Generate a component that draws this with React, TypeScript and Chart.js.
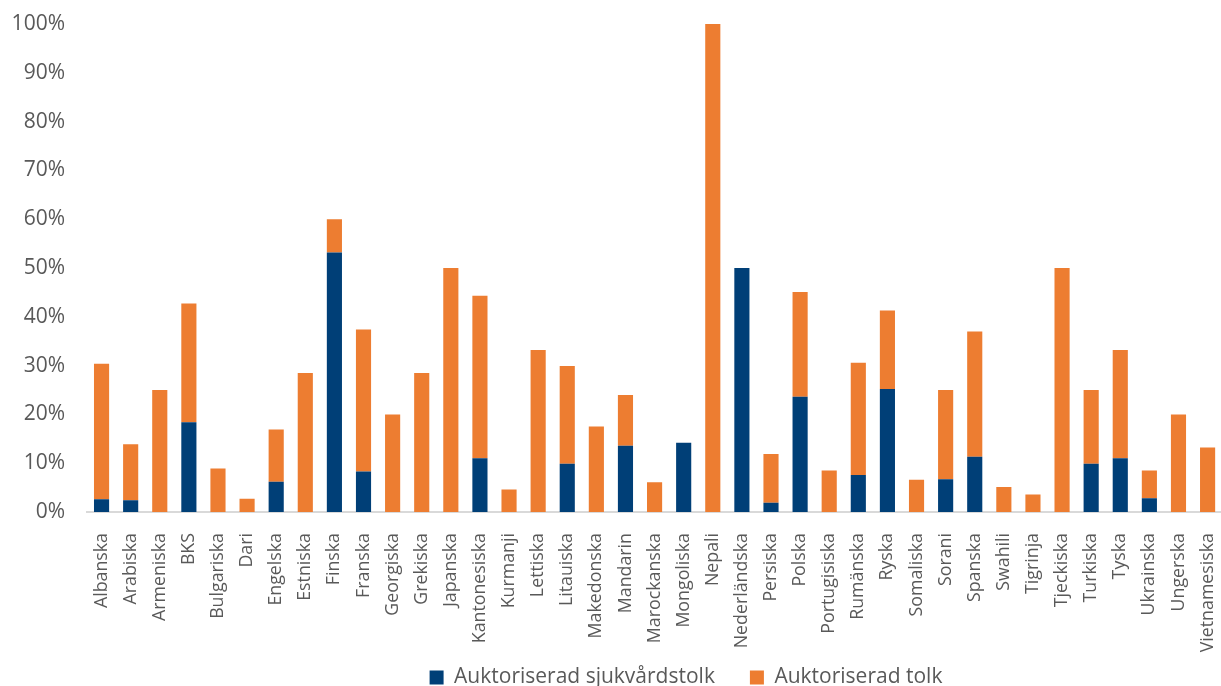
import React, { useEffect, useRef } from "react";
import { Chart, registerables } from "chart.js";

Chart.register(...registerables);

const categories = [
  "Albanska", "Arabiska", "Armeniska", "BKS", "Bulgariska", "Dari", "Engelska", "Estniska",
  "Finska", "Franska", "Georgiska", "Grekiska", "Japanska", "Kantonesiska", "Kurmanji",
  "Lettiska", "Litauiska", "Makedonska", "Mandarin", "Marockanska", "Mongoliska", "Nepali",
  "Nederländska", "Persiska", "Polska", "Portugisiska", "Rumänska", "Ryska", "Somaliska",
  "Sorani", "Spanska", "Swahili", "Tigrinja", "Tjeckiska", "Turkiska", "Tyska", "Ukrainska",
  "Ungerska", "Vietnamesiska",
];

const sjukvardstolk = [
  2.6, 2.4, 0, 18.4, 0, 0, 6.2, 0, 53.2, 8.3, 0, 0, 0, 11.0, 0, 0, 9.9, 0, 13.6, 0, 14.2, 0,
  50, 1.9, 23.6, 0, 7.6, 25.2, 0, 6.7, 11.3, 0, 0, 0, 9.9, 11.0, 2.8, 0, 0,
];

const tolk = [
  27.8, 11.5, 25, 24.3, 8.9, 2.7, 10.7, 28.5, 6.8, 29.1, 20, 28.5, 50, 33.3, 4.6, 33.2, 20.0,
  17.5, 10.4, 6.1, 0, 100, 0, 10.0, 21.5, 8.5, 23.0, 16.1, 6.6, 18.3, 25.7, 5.1, 3.6, 50, 15.1,
  22.2, 5.7, 20, 13.2,
];

const seriesNames = ["Auktoriserad sjukvårdstolk", "Auktoriserad tolk"];

const FONT = "'Open Sans', sans-serif";
const TEXT = "#595959";

// After layout: nudge the legend to the right and let the rotated
// category labels use the empty band above the legend items.
const layoutTweaks = {
  id: "layoutTweaks",
  afterLayout(chart: any) {
    const l = chart.legend;
    if (l) {
      l.left += 61;
      l.right += 61;
    }
    const x = chart.scales.x;
    if (x) {
      x.bottom += 40;
      x.height += 40;
    }
  },
};

export default function App() {
  const ref = useRef<HTMLCanvasElement | null>(null);

  useEffect(() => {
    if (!ref.current) return;
    const chart = new Chart(ref.current, {
      type: "bar",
      data: {
        labels: categories,
        datasets: [
          {
            label: seriesNames[0],
            data: sjukvardstolk,
            backgroundColor: "#003F77",
            barPercentage: 0.52,
            categoryPercentage: 1,
          },
          {
            label: seriesNames[1],
            data: tolk,
            backgroundColor: "#ED7D31",
            barPercentage: 0.52,
            categoryPercentage: 1,
          },
        ],
      },
      plugins: [layoutTweaks],
      options: {
        responsive: false,
        animation: false,
        devicePixelRatio: 1,
        layout: { padding: { left: 12, right: 4, top: 24, bottom: 0 } },
        plugins: {
          tooltip: { enabled: false },
          legend: {
            position: "bottom",
            labels: {
              boxWidth: 14,
              boxHeight: 14,
              color: TEXT,
              font: { family: FONT, size: 21 },
              padding: 35,
            },
          },
        },
        scales: {
          x: {
            stacked: true,
            grid: { display: false },
            border: { display: true, color: "#D9D9D9", width: 2 },
            ticks: {
              color: TEXT,
              font: { family: FONT, size: 17.8 },
              minRotation: 90,
              maxRotation: 90,
              autoSkip: false,
              padding: 13,
            },
            afterFit: (scale: any) => {
              scale.height = 120;
            },
          },
          y: {
            stacked: true,
            min: 0,
            max: 100,
            grid: { display: false },
            border: { display: false },
            ticks: {
              stepSize: 10,
              color: TEXT,
              font: { family: FONT, size: 21 },
              padding: 14,
              callback: (v) => `${v}%`,
            },
            afterFit: (scale: any) => {
              scale.width = 75;
              scale.paddingTop = 0;
              scale.paddingBottom = 0;
            },
          },
        },
      },
    });
    return () => chart.destroy();
  }, []);

  return (
    <div
      style={{
        position: "fixed",
        left: 0,
        top: 0,
        width: 1221,
        height: 686,
        overflow: "hidden",
        background: "#fff",
      }}
    >
      <canvas ref={ref} width={1242} height={698} style={{ width: 1242, height: 698, display: "block" }} />
    </div>
  );
}
